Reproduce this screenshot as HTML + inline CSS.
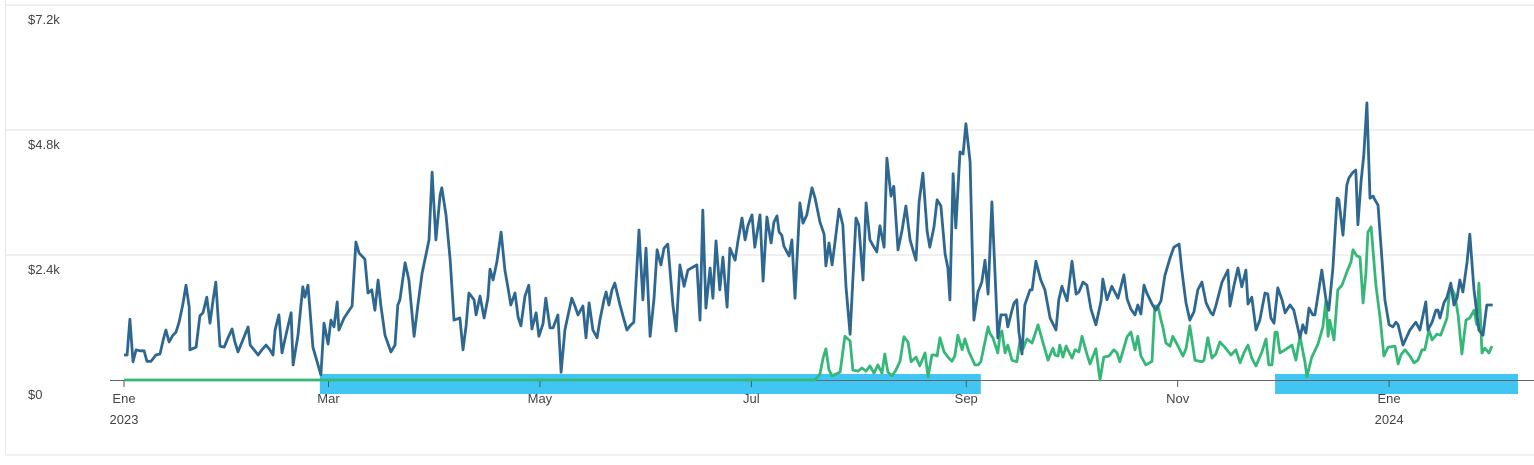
<!DOCTYPE html>
<html><head><meta charset="utf-8"><style>
html,body{margin:0;padding:0;background:#fff;}
body{width:1534px;height:460px;overflow:hidden;font-family:"Liberation Sans",sans-serif;}
</style></head><body>
<svg id="chart" width="1534" height="460" xmlns="http://www.w3.org/2000/svg">
<rect x="5.5" y="-1" width="1540" height="456" fill="#fff" stroke="#e6e6e6"/>
<g id="grid"></g><g id="bands"></g><g id="axis"></g><g id="lines"></g><g id="labels"></g>
</svg>
<script>
const yTickValues=[0,2400,4800,7200];
const yTickLabels=["$0","$2.4k","$4.8k","$7.2k"];
const xTickDays=[0,59,120,181,243,304,365];
const xTickLabels=["Ene","Mar","May","Jul","Sep","Nov","Ene"];
const xTickYears=["2023","","","","","","2024"];
const bandStart=[56.5,332.1];
const bandEnd=[247.2,402.2];
const blueDays=[0,0.9,1.7,2.6,3.5,4.6,5.8,6.6,7.8,9.2,10.4,11.3,12.1,13.0,14.1,15.0,15.9,17.0,17.9,18.8,19.0,20.8,21.9,22.8,23.9,24.8,25.7,26.5,27.7,28.9,30.0,31.2,32.0,32.9,34.3,35.8,36.4,37.5,38.7,39.8,41.0,42.1,43.0,43.6,44.7,45.6,46.7,48.2,48.8,50.2,51.6,52.2,53.1,54.5,56.8,57.7,58.9,59.7,60.6,61.5,62.0,63.5,65.8,66.9,67.8,69.5,70.4,71.5,72.4,73.3,74.1,75.3,77.0,78.2,79.0,79.6,81.1,82.2,83.7,84.8,86.0,87.1,88.0,88.9,90.0,91.2,91.7,92.9,94.1,95.2,96.9,97.8,98.7,99.5,101.0,101.6,102.7,103.9,105.0,105.6,106.5,107.6,108.8,109.9,110.8,111.6,112.8,113.7,114.5,115.7,116.8,117.7,118.9,119.7,120.9,121.7,122.9,123.8,125.2,126.1,127.2,127.8,129.2,130.1,131.0,132.4,133.3,134.2,135.3,136.5,137.3,138.5,139.1,139.9,140.8,141.6,143.1,144.3,145.1,146.0,147.1,148.6,149.7,150.6,151.8,152.9,153.8,154.9,155.8,156.9,158.4,159.3,160.4,161.6,162.7,164.2,165.3,166.2,167.0,167.9,169.1,169.9,170.8,171.9,172.8,174.0,174.8,176.3,177.1,178.3,179.2,180.0,181.2,182.0,183.5,184.4,185.5,186.7,187.5,188.4,189.0,189.8,190.4,191.9,192.7,193.6,195.0,195.9,197.0,198.5,199.4,200.8,202.0,202.5,203.4,204.3,205.1,206.3,207.4,208.3,209.5,211.2,212.0,213.2,214.1,215.2,216.4,217.2,218.1,219.3,220.1,221.3,222.1,223.3,224.5,225.6,226.8,227.6,228.5,229.4,230.5,231.7,232.5,233.7,234.6,235.7,236.9,237.7,238.3,239.2,240.0,241.2,242.1,242.9,244.1,245.2,246.4,247.5,248.4,249.3,250.4,252.1,253.0,254.5,255.0,256.2,256.8,257.6,258.2,259.1,259.9,261.4,262.0,263.1,264.5,265.7,267.2,268.9,269.7,270.6,272.1,273.5,274.7,275.5,276.7,277.8,279.0,280.4,281.9,282.4,283.6,285.0,286.8,288.5,289.4,290.5,291.7,292.5,293.4,294.3,295.1,296.6,297.7,299.2,300.3,301.8,302.9,304.4,305.2,306.4,307.5,308.7,309.8,311.0,312.2,313.6,314.2,315.0,316.8,318.5,319.1,320.2,321.4,322.5,323.7,324.3,325.4,326.6,327.7,329.2,330.0,330.9,331.8,332.9,334.1,335.0,336.4,337.5,339.3,340.1,341.0,341.9,343.0,343.6,344.5,345.6,346.8,347.6,348.8,350.0,350.5,351.7,352.8,353.4,354.6,355.4,356.0,356.9,357.7,358.6,359.5,360.4,360.9,361.8,363.8,365.0,366.1,367.0,367.6,369.0,371.0,372.7,373.9,375.6,376.2,377.4,378.5,379.1,379.7,380.8,381.7,382.8,383.7,384.6,385.4,386.3,387.5,388.3,389.5,390.9,392.1,393.2,394.9];
const blueValues=[480,480,1170,350,580,560,560,360,360,480,500,770,960,730,860,920,1110,1460,1820,1400,580,630,1230,1290,1590,1090,1540,1880,650,630,810,980,730,540,770,1020,670,580,480,580,670,580,480,960,1250,520,860,1290,290,860,1790,1590,1820,630,100,1090,690,1150,1020,1500,960,1190,1420,2650,2440,2320,1670,1730,1340,1920,1440,860,540,670,1440,1540,2250,1920,840,1440,2050,2400,2690,3990,2690,3550,3690,3170,2300,1150,1190,580,1040,1670,1540,1250,1610,1190,1570,2130,1920,2270,2840,2110,1770,1440,1670,1210,1040,1610,1820,980,1290,840,1080,1570,1000,1000,1250,150,960,1150,1570,1420,1250,1420,810,1480,960,810,1150,1540,1690,1440,1730,1860,1440,1150,960,1040,1110,2880,1540,2530,840,1560,2500,2210,2530,2610,1420,940,2210,1800,2110,2170,2210,1150,3260,1380,2150,1570,2670,1730,2360,1400,2530,2300,2650,3110,2690,2960,3170,2550,3170,1900,3130,2630,3030,3150,2840,2780,2570,2380,2690,1570,3400,3010,3170,3690,3490,3030,2800,2190,2630,2210,2630,3280,2980,1790,880,3110,2980,1920,3400,2690,2550,2460,2960,2550,4260,3530,3720,2500,2880,3340,2690,2500,2300,3420,3970,2860,2550,2940,3460,3340,2420,2150,1540,3960,2920,4380,4340,4920,4190,1150,1690,1880,2300,1650,3420,810,1250,1250,1020,1340,1480,1540,920,500,1440,1730,1730,2280,1920,1730,1190,960,1540,1800,1520,2280,1650,1690,1880,1820,1360,1060,1520,1940,1540,1800,1570,2020,1560,1360,1250,1440,1270,1820,1670,1460,1340,1520,2000,2340,2550,2610,2110,1480,1150,1310,1730,1880,1480,1290,1250,1420,1880,2110,1420,1800,2150,1790,2110,1460,1590,960,1150,1670,1650,1190,1090,1770,1540,1290,1440,1340,810,1060,900,1380,1250,1250,1630,2110,1540,1340,2150,3490,3460,2780,3740,3880,3990,4030,2980,3800,4320,5320,3490,3530,3460,3360,1540,1060,1020,1110,1060,670,960,1110,960,1500,960,1110,1340,1340,1190,1480,1590,1860,1440,1570,1920,1690,2270,2800,1730,960,860,1440,1440];
const greenDays=[0,199.4,200.8,201.7,202.5,203.4,204.3,206.6,208.0,209.5,210.3,211.8,212.9,214.1,215.2,216.4,217.5,218.7,219.5,220.4,221.6,222.7,223.9,225.0,226.2,227.1,228.5,229.6,231.1,232.0,233.1,234.0,234.6,235.4,236.6,237.7,238.9,239.7,240.6,241.8,242.6,243.8,245.5,246.4,247.2,249.3,249.8,250.7,252.1,252.7,253.3,254.2,255.0,256.2,257.6,258.5,259.4,260.5,262.0,263.7,265.1,266.6,268.0,268.6,269.5,270.0,270.9,271.8,273.5,274.4,275.5,276.4,277.8,278.7,280.4,281.6,282.7,284.2,285.6,286.5,287.3,289.4,290.5,291.7,292.5,293.4,294.8,296.6,297.4,298.3,299.2,299.7,300.6,301.8,302.6,303.8,305.5,306.4,307.5,309.0,311.0,311.6,312.7,313.9,315.0,316.2,317.6,319.4,320.8,322.0,323.1,324.3,325.4,326.6,328.3,329.5,330.3,331.2,332.1,332.7,333.5,335.0,337.0,338.1,339.3,340.7,341.3,342.7,344.5,345.9,346.8,347.4,347.9,349.1,350.2,351.4,352.8,354.0,354.6,355.7,356.6,357.5,358.3,358.9,359.8,361.2,362.4,363.5,364.7,366.7,367.6,368.4,369.6,371.0,372.2,373.3,374.5,375.3,376.5,377.4,378.8,379.9,381.7,382.6,384.0,384.9,386.0,387.2,388.3,389.5,390.3,390.9,391.8,392.6,393.8,394.7];
const greenValues=[0,0,120,420,600,190,80,150,840,750,190,170,230,170,270,130,290,130,500,150,80,190,360,830,730,350,440,270,520,60,480,480,460,810,540,440,360,460,860,580,790,540,290,290,350,1020,900,810,520,860,940,520,670,380,350,750,600,790,710,1060,730,380,610,480,460,670,440,650,420,580,540,840,500,310,600,0,440,460,580,520,350,830,920,580,840,460,290,360,1420,1420,1150,1020,710,650,840,690,460,600,1040,380,350,380,810,420,500,730,630,480,580,330,520,670,420,270,540,790,290,290,920,920,520,580,670,380,840,350,60,440,690,1020,1540,840,1150,770,1730,1820,2070,2270,2500,2380,2360,1480,2050,2840,2940,1820,1190,460,630,650,310,480,580,460,330,380,580,580,960,770,880,860,1190,1820,1630,1250,500,1150,1190,1340,1060,1860,520,610,520,650];

const NS="http://www.w3.org/2000/svg";
const X0=124, PXDAY=3.466, Y0=380, PXVAL=125/2400;
function xs(d){return X0+d*PXDAY;}
function ys(v){return Y0-v*PXVAL;}
function mk(tag,attrs,parent){const e=document.createElementNS(NS,tag);for(const k in attrs)e.setAttribute(k,attrs[k]);document.getElementById(parent).appendChild(e);return e;}

yTickValues.forEach((v,i)=>{
  if(v>0){const g=mk('line',{x1:6,x2:1534,y1:ys(v),y2:ys(v),stroke:'#ebebeb','stroke-width':1.5},'grid');
  
  }
  const t=mk('text',{x:28,y:ys(v)+19,'font-size':13,fill:'#444'},'labels');
  t.textContent=yTickLabels[i];
  
  
});
bandStart.forEach((s,i)=>{
  const r=mk('rect',{x:xs(s),y:374,width:xs(bandEnd[i])-xs(s),height:20,fill:'#41c5f2'},'bands');
  
  
});
const ax=mk('line',{x1:110,x2:1534,y1:380.5,y2:380.5,stroke:'#666','stroke-width':1},'axis');


xTickDays.forEach((d,i)=>{
  const tk=mk('line',{x1:xs(d),x2:xs(d),y1:380,y2:387,stroke:'#555','stroke-width':1},'axis');
  
  
  const t=mk('text',{x:xs(d),y:403,'font-size':13,fill:'#444','text-anchor':'middle'},'labels');
  t.textContent=xTickLabels[i];
  
  
  if(xTickYears[i]){const y=mk('text',{x:xs(d),y:424,'font-size':13,fill:'#444','text-anchor':'middle'},'labels');
  y.textContent=xTickYears[i];
  
  }
});
function path(days,vals){return days.map((d,i)=>(i?'L':'M')+xs(d).toFixed(1)+','+ys(vals[i]).toFixed(1)).join('');}
const gl=mk('path',{d:path(greenDays,greenValues),fill:'none',stroke:'#35b877','stroke-width':2.8,'stroke-linejoin':'round'},'lines');


const bl=mk('path',{d:path(blueDays,blueValues),fill:'none',stroke:'#2e6790','stroke-width':2.8,'stroke-linejoin':'round'},'lines');


</script>
</body></html>
